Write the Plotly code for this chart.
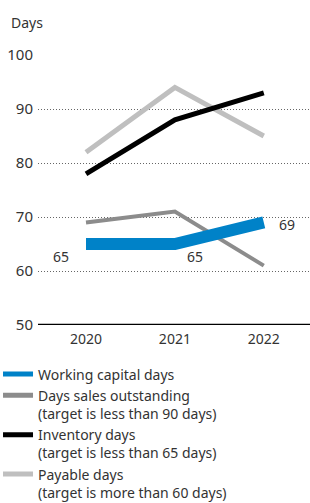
import plotly.graph_objects as go

years = ["2020", "2021", "2022"]
working_capital = [65, 65, 69]
dso = [69, 71, 61]
inventory = [78, 88, 93]
payable = [82, 94, 85]

names = [
    "Working capital days",
    "Days sales outstanding<br>(target is less than 90 days)",
    "Inventory days<br>(target is less than 65 days)",
    "Payable days<br>(target is more than 60 days)",
]
y_ticks = [50, 60, 70, 80, 90, 100]

FONT = "Noto Sans"
TXT = "#333333"

fig = go.Figure()
fig.add_trace(go.Scatter(x=years, y=payable, mode="lines", name=names[3],
                         line=dict(color="#bfbfbf", width=5), legendrank=4))
fig.add_trace(go.Scatter(x=years, y=inventory, mode="lines", name=names[2],
                         line=dict(color="#000000", width=5), legendrank=3))
fig.add_trace(go.Scatter(x=years, y=dso, mode="lines", name=names[1],
                         line=dict(color="#8c8c8c", width=4), legendrank=2))
fig.add_trace(go.Scatter(x=years, y=working_capital, mode="lines", name=names[0],
                         line=dict(color="#0082c8", width=12), legendrank=1))

# value labels for working capital days
label_pos = [(-25, -12), (20, -12), (23, -2)]
for i, ((xs, ys), v) in enumerate(zip(label_pos, working_capital)):
    fig.add_annotation(x=i, y=v, text=str(v), showarrow=False,
                       xshift=xs, yshift=ys,
                       font=dict(family=FONT, size=14, color=TXT))

fig.add_annotation(xref="paper", yref="paper", x=-0.107, y=1.122, xanchor="left",
                   yanchor="middle", text="Days", showarrow=False,
                   font=dict(family=FONT, size=14, color=TXT))

fig.update_layout(
    width=310, height=503,
    margin=dict(l=38, r=0, t=55, b=178, autoexpand=False),
    paper_bgcolor="white", plot_bgcolor="white",
    font=dict(family=FONT, size=14, color=TXT),
    showlegend=True,
    legend=dict(orientation="v", x=-0.147, xanchor="left", y=-0.124, yanchor="top",
                traceorder="normal", valign="top", itemwidth=30,
                font=dict(family=FONT, size=14, color=TXT),
                tracegroupgap=0, itemsizing="constant"),
    xaxis=dict(type="category", range=[-0.54, 2.52], showgrid=False, ticks="",
               zeroline=False, showline=False, automargin=False,
               ticklabelstandoff=4, tickfont=dict(size=14)),
    yaxis=dict(range=[50, 100], tickvals=y_ticks, showgrid=True,
               gridcolor="#666666", griddash="1px,2px", gridwidth=1,
               zeroline=False, ticks="", automargin=False,
               ticklabelstandoff=4, tickfont=dict(size=15)),
)
fig.add_hline(y=50, line=dict(color="black", width=2.5))

fig.write_html("out.html", config={"displayModeBar": False},
               post_script="document.body.style.margin='0';"
                           "document.body.style.overflow='hidden';")
